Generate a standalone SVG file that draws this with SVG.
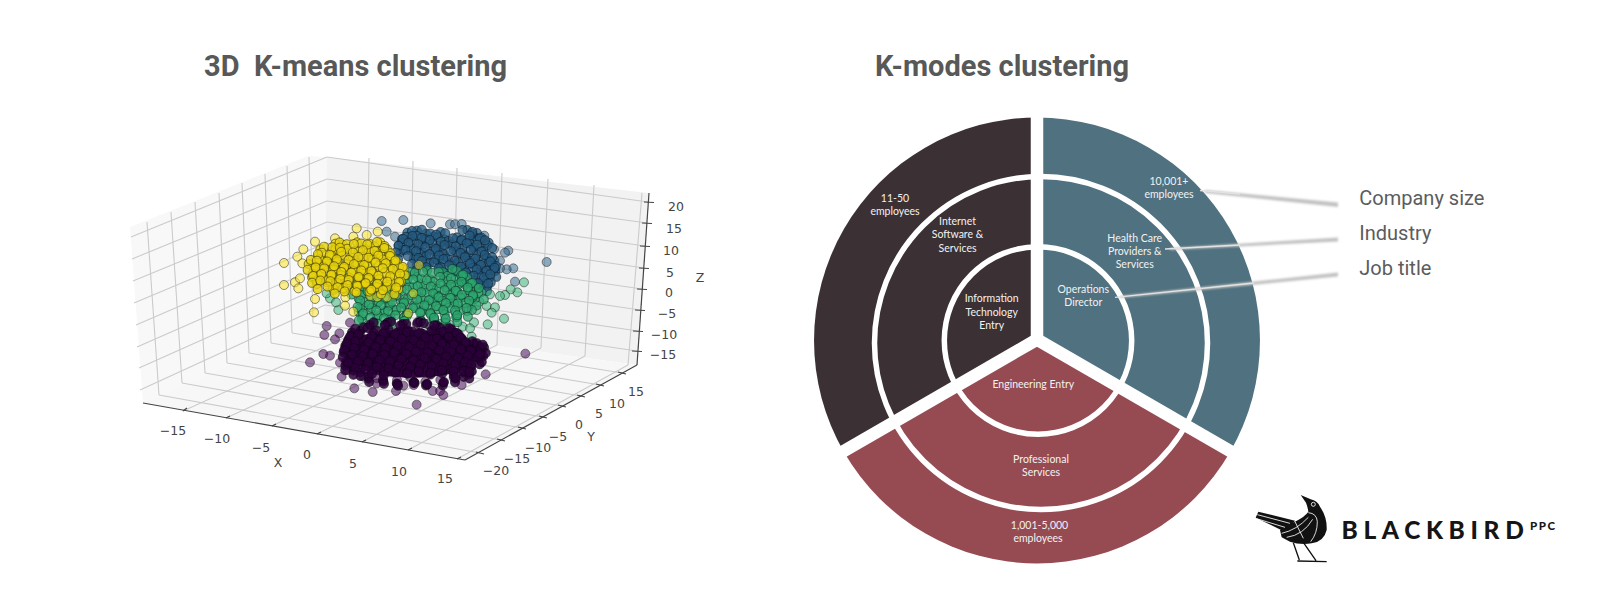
<svg xmlns="http://www.w3.org/2000/svg" width="1600" height="607" viewBox="0 0 1600 607">
<defs>
<filter id="soft" x="-5%" y="-5%" width="110%" height="110%"><feGaussianBlur stdDeviation="0.45"/></filter>
<filter id="shade" x="-5%" y="-100%" width="110%" height="300%"><feGaussianBlur stdDeviation="0.8"/></filter>
</defs>
<style>
text{font-family:"Liberation Sans",sans-serif}
.title{font-family:Roboto,sans-serif;font-weight:700;font-size:29px;fill:#585858;white-space:pre}
.lab{font-family:Roboto,sans-serif;font-size:20px;fill:#5c5c5c}
.t{font-family:"DejaVu Sans",sans-serif;font-size:12.5px;fill:#444;text-anchor:middle;dominant-baseline:central}
.c{font-family:Lato,sans-serif;font-size:10.5px;fill:#f2f2f2;text-anchor:middle}
.g line{stroke:#cbcbcb;stroke-width:1.1}
.ax line{stroke:#444;stroke-width:1.2}
.pts circle{r:13.5px;stroke-width:3;stroke:#1a1a1a;stroke-opacity:.5;fill-opacity:.52}
.b circle{fill:#31688e}.n circle{fill:#35b779}.p circle{fill:#440154}.y circle{fill:#fde725}
.pts #bb circle{fill:#24597f;fill-opacity:.75;stroke:#0c2233;stroke-opacity:.65}
.pts #nb circle{fill:#2da66e;fill-opacity:.75;stroke:#0d3d2c;stroke-opacity:.65}
.pts #pb circle{fill:#2c0639;fill-opacity:.85;stroke:#14021c;stroke-opacity:.7}
.pts #yb circle{fill:#e6d20e;fill-opacity:.8;stroke:#4f4705;stroke-opacity:.7}
.ring{fill:none;stroke:#fff;stroke-width:5.5}
.gap{stroke:#fff;stroke-width:12.5}
</style>
<text class="title" x="204" y="76" xml:space="preserve">3D  K-means clustering</text>
<text class="title" x="875" y="76">K-modes clustering</text>

<g id="plot3d">
<polygon points="130,227 308,156 327,157 324,322 143,403" fill="#f8f8f8"/>
<polygon points="327,157 649,193 637,365 324,322" fill="#f2f2f2"/>
<polygon points="143,403 465,460 637,365 324,322" fill="#f7f7f7"/>
<g class="g" filter="url(#soft)">
<line x1="131" y1="237" x2="327" y2="157"/><line x1="132" y1="259" x2="327" y2="179"/><line x1="133" y1="281" x2="327" y2="201"/><line x1="134" y1="303" x2="327" y2="222"/><line x1="136" y1="325" x2="326" y2="243"/><line x1="137" y1="347" x2="326" y2="264"/><line x1="139" y1="368" x2="325" y2="285"/><line x1="140" y1="390" x2="325" y2="305"/>
<line x1="147" y1="222" x2="159" y2="395"/><line x1="171" y1="212" x2="182" y2="383"/><line x1="195" y1="202" x2="205" y2="373"/><line x1="219" y1="193" x2="227" y2="363"/><line x1="242" y1="183" x2="249" y2="353"/><line x1="265" y1="174" x2="271" y2="343"/><line x1="287" y1="166" x2="292" y2="333"/><line x1="309" y1="157" x2="313" y2="323"/>
<line x1="327" y1="157" x2="648" y2="202"/><line x1="327" y1="179" x2="647" y2="223"/><line x1="327" y1="201" x2="645" y2="246"/><line x1="327" y1="222" x2="644" y2="268"/><line x1="326" y1="243" x2="642" y2="289"/><line x1="326" y1="264" x2="640" y2="310"/><line x1="325" y1="285" x2="638" y2="331"/><line x1="325" y1="305" x2="637" y2="351"/>
<line x1="369" y1="158" x2="366" y2="328"/><line x1="413" y1="161" x2="410" y2="334"/><line x1="457" y1="168" x2="453" y2="340"/><line x1="502" y1="173" x2="497" y2="345"/><line x1="548" y1="179" x2="541" y2="348"/><line x1="594" y1="185" x2="585" y2="356"/><line x1="642" y1="193" x2="628" y2="365"/>
<line x1="183" y1="411" x2="366" y2="328"/><line x1="226" y1="418" x2="410" y2="334"/><line x1="272" y1="426" x2="453" y2="340"/><line x1="317" y1="434" x2="497" y2="345"/><line x1="362" y1="442" x2="541" y2="348"/><line x1="408" y1="450" x2="585" y2="356"/><line x1="457" y1="459" x2="628" y2="365"/>
<line x1="480" y1="453" x2="159" y2="395"/><line x1="501" y1="440" x2="182" y2="383"/><line x1="522" y1="428" x2="205" y2="373"/><line x1="543" y1="417" x2="227" y2="363"/><line x1="562" y1="406" x2="249" y2="353"/><line x1="581" y1="396" x2="271" y2="343"/><line x1="600" y1="385" x2="292" y2="333"/><line x1="622" y1="373" x2="313" y2="323"/>
</g>
<g class="ax">
<line x1="143" y1="403" x2="465" y2="460"/><line x1="465" y1="460" x2="637" y2="365"/><line x1="637" y1="365" x2="649" y2="193"/>
<line x1="183" y1="411" x2="187" y2="408"/><line x1="226" y1="418" x2="230" y2="416"/><line x1="272" y1="426" x2="276" y2="424"/><line x1="317" y1="434" x2="321" y2="432"/><line x1="362" y1="442" x2="366" y2="440"/><line x1="408" y1="450" x2="412" y2="448"/><line x1="457" y1="459" x2="461" y2="457"/>
<line x1="476" y1="452" x2="484" y2="454"/><line x1="497" y1="439" x2="505" y2="441"/><line x1="518" y1="427" x2="526" y2="429"/><line x1="539" y1="416" x2="547" y2="418"/><line x1="558" y1="405" x2="566" y2="407"/><line x1="577" y1="395" x2="585" y2="397"/><line x1="596" y1="384" x2="604" y2="386"/><line x1="618" y1="372" x2="626" y2="374"/>
<line x1="644" y1="202" x2="654" y2="202.500"/><line x1="642" y1="223" x2="652" y2="223.500"/><line x1="640" y1="246" x2="650" y2="246.500"/><line x1="639" y1="268" x2="649" y2="268.500"/><line x1="637" y1="289" x2="647" y2="289.500"/><line x1="635" y1="310" x2="645" y2="310.500"/><line x1="633" y1="331" x2="643" y2="331.500"/><line x1="632" y1="351" x2="642" y2="351.500"/>
</g>
<g class="pts" transform="translate(270 200) scale(.33333)" filter="url(#soft)">
<g class="b">
<circle cx="335" cy="63"/><circle cx="400" cy="60"/><circle cx="482" cy="70"/><circle cx="540" cy="73"/><circle cx="555" cy="73"/><circle cx="575" cy="72"/><circle cx="350" cy="95"/><circle cx="375" cy="110"/><circle cx="643" cy="107"/><circle cx="672" cy="148"/><circle cx="715" cy="152"/><circle cx="705" cy="158"/><circle cx="690" cy="182"/><circle cx="830" cy="186"/><circle cx="735" cy="245"/><circle cx="730" cy="205"/><circle cx="710" cy="208"/><circle cx="690" cy="205"/><circle cx="658" cy="200"/>
<g id="bb">
<circle cx="412" cy="98"/><circle cx="441" cy="92"/><circle cx="468" cy="101"/><circle cx="512" cy="96"/><circle cx="592" cy="90"/><circle cx="621" cy="99"/>
<circle cx="396" cy="117"/><circle cx="427" cy="111"/><circle cx="456" cy="119"/><circle cx="491" cy="110"/><circle cx="524" cy="118"/><circle cx="561" cy="112"/><circle cx="586" cy="120"/><circle cx="612" cy="109"/><circle cx="641" cy="121"/>
<circle cx="386" cy="136"/><circle cx="416" cy="131"/><circle cx="447" cy="139"/><circle cx="476" cy="130"/><circle cx="506" cy="138"/><circle cx="534" cy="129"/><circle cx="567" cy="137"/><circle cx="601" cy="131"/><circle cx="631" cy="139"/><circle cx="656" cy="128"/>
<circle cx="391" cy="157"/><circle cx="421" cy="151"/><circle cx="452" cy="160"/><circle cx="486" cy="152"/><circle cx="514" cy="159"/><circle cx="551" cy="150"/><circle cx="579" cy="158"/><circle cx="611" cy="152"/><circle cx="642" cy="160"/>
<circle cx="431" cy="176"/><circle cx="461" cy="170"/><circle cx="497" cy="178"/><circle cx="526" cy="171"/><circle cx="559" cy="179"/><circle cx="591" cy="172"/><circle cx="621" cy="180"/><circle cx="651" cy="172"/><circle cx="672" cy="181"/>
<circle cx="441" cy="196"/><circle cx="472" cy="190"/><circle cx="509" cy="197"/><circle cx="541" cy="191"/><circle cx="576" cy="199"/><circle cx="604" cy="192"/><circle cx="636" cy="200"/><circle cx="666" cy="193"/>
<circle cx="521" cy="216"/><circle cx="556" cy="210"/><circle cx="589" cy="218"/><circle cx="622" cy="212"/><circle cx="651" cy="219"/><circle cx="676" cy="213"/>
<circle cx="576" cy="236"/><circle cx="611" cy="230"/><circle cx="641" cy="238"/><circle cx="661" cy="231"/><circle cx="622" cy="254"/><circle cx="652" cy="258"/>
</g>
<use href="#bb" transform="translate(8 5) rotate(5 530 160)"/><use href="#bb" transform="translate(-7 6) rotate(-6 530 160)"/>
</g>
<g class="n">
<circle cx="762" cy="247"/><circle cx="742" cy="277"/><circle cx="722" cy="268"/><circle cx="705" cy="285"/><circle cx="690" cy="288"/><circle cx="650" cy="318"/><circle cx="675" cy="322"/><circle cx="665" cy="338"/><circle cx="620" cy="330"/><circle cx="612" cy="367"/><circle cx="578" cy="380"/><circle cx="600" cy="385"/><circle cx="605" cy="410"/><circle cx="653" cy="373"/><circle cx="702" cy="356"/><circle cx="205" cy="330"/><circle cx="180" cy="295"/><circle cx="170" cy="280"/><circle cx="198" cy="307"/><circle cx="660" cy="283"/><circle cx="628" cy="305"/>
<circle cx="231" cy="212"/><circle cx="311" cy="372"/><circle cx="401" cy="372"/><circle cx="471" cy="372"/><circle cx="511" cy="372"/><circle cx="541" cy="375"/>
<g id="nb">
<circle cx="421" cy="216"/><circle cx="472" cy="211"/><circle cx="519" cy="217"/><circle cx="561" cy="212"/>
<circle cx="401" cy="236"/><circle cx="441" cy="231"/><circle cx="481" cy="238"/><circle cx="522" cy="232"/><circle cx="554" cy="239"/><circle cx="591" cy="233"/>
<circle cx="252" cy="257"/><circle cx="301" cy="252"/><circle cx="341" cy="258"/><circle cx="381" cy="251"/><circle cx="419" cy="259"/><circle cx="452" cy="253"/><circle cx="491" cy="258"/><circle cx="521" cy="252"/><circle cx="552" cy="259"/><circle cx="584" cy="253"/><circle cx="616" cy="260"/>
<circle cx="276" cy="277"/><circle cx="311" cy="272"/><circle cx="351" cy="279"/><circle cx="386" cy="273"/><circle cx="431" cy="278"/><circle cx="461" cy="272"/><circle cx="496" cy="279"/><circle cx="531" cy="273"/><circle cx="564" cy="278"/><circle cx="601" cy="272"/><circle cx="634" cy="277"/>
<circle cx="266" cy="296"/><circle cx="301" cy="292"/><circle cx="336" cy="298"/><circle cx="371" cy="291"/><circle cx="406" cy="297"/><circle cx="446" cy="292"/><circle cx="481" cy="298"/><circle cx="511" cy="292"/><circle cx="546" cy="298"/><circle cx="581" cy="292"/><circle cx="614" cy="297"/>
<circle cx="281" cy="317"/><circle cx="321" cy="312"/><circle cx="356" cy="318"/><circle cx="396" cy="311"/><circle cx="431" cy="317"/><circle cx="466" cy="312"/><circle cx="501" cy="318"/><circle cx="531" cy="312"/><circle cx="566" cy="317"/><circle cx="601" cy="312"/>
<circle cx="266" cy="336"/><circle cx="301" cy="332"/><circle cx="341" cy="338"/><circle cx="376" cy="332"/><circle cx="411" cy="337"/><circle cx="451" cy="332"/><circle cx="481" cy="338"/><circle cx="521" cy="332"/><circle cx="556" cy="337"/><circle cx="591" cy="333"/>
<circle cx="276" cy="357"/><circle cx="321" cy="352"/><circle cx="361" cy="358"/><circle cx="401" cy="352"/><circle cx="451" cy="358"/><circle cx="491" cy="352"/><circle cx="526" cy="358"/><circle cx="561" cy="352"/>
</g>
<use href="#nb" transform="translate(7 4) rotate(5 440 290)"/><use href="#nb" transform="translate(-5 7) rotate(-6 440 290)"/>
</g>
<g class="p">
<path d="M238 425Q300 385 430 390Q560 395 625 445Q612 500 540 522Q430 545 310 522Q235 490 238 425Z" fill="#33063f" style="stroke:none"/>
<circle cx="120" cy="487"/><circle cx="170" cy="378"/><circle cx="163" cy="405"/><circle cx="240" cy="368"/><circle cx="208" cy="400"/><circle cx="195" cy="418"/><circle cx="215" cy="530"/><circle cx="253" cy="565"/><circle cx="308" cy="576"/><circle cx="378" cy="573"/><circle cx="400" cy="557"/><circle cx="440" cy="614"/><circle cx="488" cy="573"/><circle cx="520" cy="585"/><circle cx="510" cy="573"/><circle cx="575" cy="555"/><circle cx="647" cy="523"/><circle cx="766" cy="461"/><circle cx="160" cy="462"/><circle cx="180" cy="467"/><circle cx="210" cy="488"/><circle cx="232" cy="510"/><circle cx="320" cy="550"/>
<circle cx="301" cy="378"/><circle cx="346" cy="374"/><circle cx="401" cy="379"/><circle cx="441" cy="373"/><circle cx="481" cy="379"/><circle cx="531" cy="385"/>
<circle cx="281" cy="530"/><circle cx="321" cy="535"/><circle cx="381" cy="540"/><circle cx="421" cy="533"/><circle cx="466" cy="545"/><circle cx="511" cy="540"/><circle cx="551" cy="533"/><circle cx="431" cy="555"/>
<g id="pb">
<circle cx="246" cy="397"/><circle cx="271" cy="392"/><circle cx="311" cy="398"/><circle cx="346" cy="392"/><circle cx="381" cy="397"/><circle cx="416" cy="393"/><circle cx="451" cy="398"/><circle cx="491" cy="392"/><circle cx="526" cy="397"/><circle cx="566" cy="403"/>
<circle cx="236" cy="417"/><circle cx="261" cy="412"/><circle cx="301" cy="418"/><circle cx="336" cy="412"/><circle cx="366" cy="417"/><circle cx="401" cy="412"/><circle cx="436" cy="418"/><circle cx="471" cy="412"/><circle cx="506" cy="417"/><circle cx="541" cy="412"/><circle cx="576" cy="418"/><circle cx="611" cy="430"/>
<circle cx="226" cy="437"/><circle cx="256" cy="432"/><circle cx="286" cy="438"/><circle cx="321" cy="432"/><circle cx="351" cy="437"/><circle cx="386" cy="433"/><circle cx="421" cy="438"/><circle cx="456" cy="432"/><circle cx="491" cy="437"/><circle cx="521" cy="432"/><circle cx="556" cy="438"/><circle cx="591" cy="432"/><circle cx="625" cy="437"/>
<circle cx="221" cy="457"/><circle cx="251" cy="452"/><circle cx="281" cy="458"/><circle cx="311" cy="452"/><circle cx="346" cy="457"/><circle cx="376" cy="452"/><circle cx="411" cy="458"/><circle cx="441" cy="452"/><circle cx="476" cy="457"/><circle cx="511" cy="452"/><circle cx="546" cy="458"/><circle cx="576" cy="452"/><circle cx="606" cy="458"/><circle cx="635" cy="452"/>
<circle cx="236" cy="477"/><circle cx="266" cy="472"/><circle cx="296" cy="478"/><circle cx="331" cy="472"/><circle cx="361" cy="477"/><circle cx="396" cy="472"/><circle cx="431" cy="478"/><circle cx="466" cy="472"/><circle cx="501" cy="477"/><circle cx="531" cy="472"/><circle cx="566" cy="478"/><circle cx="596" cy="472"/><circle cx="626" cy="477"/>
<circle cx="226" cy="497"/><circle cx="256" cy="492"/><circle cx="286" cy="498"/><circle cx="321" cy="492"/><circle cx="356" cy="497"/><circle cx="386" cy="492"/><circle cx="421" cy="498"/><circle cx="451" cy="492"/><circle cx="486" cy="497"/><circle cx="521" cy="492"/><circle cx="556" cy="498"/><circle cx="586" cy="492"/>
<circle cx="271" cy="517"/><circle cx="306" cy="512"/><circle cx="341" cy="518"/><circle cx="376" cy="512"/><circle cx="411" cy="517"/><circle cx="446" cy="512"/><circle cx="481" cy="518"/><circle cx="516" cy="512"/><circle cx="551" cy="517"/><circle cx="581" cy="518"/>
<circle cx="300" cy="374"/><circle cx="352" cy="368"/><circle cx="398" cy="372"/><circle cx="450" cy="366"/><circle cx="500" cy="376"/><circle cx="545" cy="388"/><circle cx="642" cy="442"/><circle cx="632" cy="470"/><circle cx="604" cy="500"/><circle cx="598" cy="522"/><circle cx="556" cy="536"/><circle cx="520" cy="548"/><circle cx="470" cy="552"/><circle cx="432" cy="546"/><circle cx="382" cy="552"/><circle cx="340" cy="544"/><circle cx="296" cy="536"/><circle cx="250" cy="512"/>
</g>
<use href="#pb" transform="translate(5 2) rotate(4 430 455)"/><use href="#pb" transform="translate(-3 3) rotate(-3 430 455)"/>
</g>
<g class="y">
<circle cx="42" cy="189"/><circle cx="42" cy="255"/><circle cx="75" cy="247"/><circle cx="90" cy="235"/><circle cx="85" cy="265"/><circle cx="135" cy="297"/><circle cx="132" cy="337"/><circle cx="135" cy="125"/><circle cx="100" cy="148"/><circle cx="82" cy="170"/><circle cx="97" cy="190"/><circle cx="260" cy="85"/><circle cx="323" cy="95"/><circle cx="290" cy="105"/><circle cx="250" cy="110"/><circle cx="195" cy="115"/><circle cx="250" cy="335"/><circle cx="415" cy="340"/><circle cx="430" cy="280"/><circle cx="447" cy="195"/>
<circle cx="226" cy="292"/><circle cx="301" cy="288"/><circle cx="351" cy="292"/><circle cx="225" cy="317"/><circle cx="322" cy="292"/>
<g id="yb">
<circle cx="196" cy="131"/><circle cx="218" cy="134"/><circle cx="261" cy="127"/><circle cx="301" cy="132"/><circle cx="331" cy="127"/>
<circle cx="151" cy="148"/><circle cx="186" cy="153"/><circle cx="221" cy="147"/><circle cx="256" cy="152"/><circle cx="286" cy="148"/><circle cx="321" cy="153"/><circle cx="351" cy="147"/>
<circle cx="146" cy="167"/><circle cx="176" cy="172"/><circle cx="206" cy="168"/><circle cx="241" cy="173"/><circle cx="271" cy="167"/><circle cx="301" cy="172"/><circle cx="331" cy="168"/><circle cx="366" cy="172"/>
<circle cx="116" cy="192"/><circle cx="141" cy="187"/><circle cx="166" cy="192"/><circle cx="196" cy="188"/><circle cx="226" cy="193"/><circle cx="256" cy="187"/><circle cx="286" cy="192"/><circle cx="321" cy="188"/><circle cx="351" cy="193"/><circle cx="381" cy="187"/>
<circle cx="131" cy="212"/><circle cx="156" cy="208"/><circle cx="186" cy="213"/><circle cx="216" cy="207"/><circle cx="246" cy="212"/><circle cx="276" cy="208"/><circle cx="306" cy="213"/><circle cx="341" cy="207"/><circle cx="371" cy="212"/><circle cx="401" cy="208"/>
<circle cx="126" cy="232"/><circle cx="151" cy="227"/><circle cx="181" cy="232"/><circle cx="211" cy="228"/><circle cx="236" cy="233"/><circle cx="266" cy="227"/><circle cx="296" cy="232"/><circle cx="326" cy="228"/><circle cx="361" cy="233"/><circle cx="391" cy="228"/>
<circle cx="141" cy="252"/><circle cx="171" cy="247"/><circle cx="201" cy="252"/><circle cx="231" cy="248"/><circle cx="261" cy="253"/><circle cx="286" cy="247"/><circle cx="321" cy="252"/><circle cx="351" cy="248"/><circle cx="386" cy="252"/>
<circle cx="191" cy="270"/><circle cx="221" cy="266"/><circle cx="256" cy="272"/><circle cx="301" cy="268"/><circle cx="336" cy="272"/><circle cx="376" cy="268"/>
</g>
<use href="#yb" transform="translate(5 3) rotate(6 260 200)"/><use href="#yb" transform="translate(-3 5) rotate(-5 260 200)"/>
</g>
</g>
<text class="t" x="173" y="430">−15</text><text class="t" x="217" y="438">−10</text><text class="t" x="261" y="447">−5</text><text class="t" x="307" y="454">0</text><text class="t" x="353" y="463">5</text><text class="t" x="399" y="471">10</text><text class="t" x="445" y="478">15</text><text class="t" x="278" y="462">X</text>
<text class="t" x="496" y="470">−20</text><text class="t" x="517" y="458">−15</text><text class="t" x="538" y="447">−10</text><text class="t" x="558" y="436">−5</text><text class="t" x="579" y="424">0</text><text class="t" x="599" y="413">5</text><text class="t" x="617" y="403">10</text><text class="t" x="636" y="391">15</text><text class="t" x="591" y="436">Y</text>
<text class="t" x="676" y="206">20</text><text class="t" x="674" y="228">15</text><text class="t" x="671" y="250">10</text><text class="t" x="670" y="272">5</text><text class="t" x="669" y="292">0</text><text class="t" x="667" y="313">−5</text><text class="t" x="664" y="334">−10</text><text class="t" x="663" y="354">−15</text><text class="t" x="700" y="277">Z</text>
</g>

<g id="seg-dark"><path d="M1037 340.500L1037 117.500A223 223 0 0 0 843.900 452Z" fill="#3b3033"/></g>
<g id="seg-teal"><path d="M1037 340.500L1037 117.500A223 223 0 0 1 1230.100 452Z" fill="#50717f"/></g>
<g id="seg-red"><path d="M1037 340.500L1230.100 452A223 223 0 0 1 843.900 452Z" fill="#964b53"/></g>
<g id="rings">
<circle class="ring" cx="1041" cy="343" r="166.500"/>
<circle class="ring" cx="1038" cy="340.500" r="93.700"/>
<line class="gap" x1="1037" y1="340" x2="1037" y2="105"/>
<line class="gap" x1="1037" y1="339.500" x2="1245" y2="459.600"/>
<line class="gap" x1="1037" y1="339.500" x2="829" y2="459.600"/>
</g>
<g id="node-company-size-dark"><text class="c" x="895" y="202.300">11-50</text><text class="c" x="895" y="215">employees</text></g>
<g id="node-industry-dark"><text class="c" x="957.500" y="225">Internet</text><text class="c" x="957.500" y="238.300">Software &amp;</text><text class="c" x="957.500" y="251.700">Services</text></g>
<g id="node-job-dark"><text class="c" x="991.700" y="302.300">Information</text><text class="c" x="991.700" y="315.500">Technology</text><text class="c" x="991.700" y="329">Entry</text></g>
<g id="node-company-size-teal"><text class="c" x="1169" y="184.700">10,001+</text><text class="c" x="1169" y="198">employees</text></g>
<g id="node-industry-teal"><text class="c" x="1134.700" y="241.700">Health Care</text><text class="c" x="1134.700" y="255">Providers &amp;</text><text class="c" x="1134.700" y="268.300">Services</text></g>
<g id="node-job-teal"><text class="c" x="1083.300" y="293.300">Operations</text><text class="c" x="1083.300" y="306">Director</text></g>
<g id="node-job-red"><text class="c" x="1033.300" y="387.700">Engineering Entry</text></g>
<g id="node-industry-red"><text class="c" x="1041" y="463">Professional</text><text class="c" x="1041" y="476">Services</text></g>
<g id="node-company-size-red"><text class="c" x="1039.500" y="529.300">1,001-5,000</text><text class="c" x="1038" y="542.300">employees</text></g>

<g id="connectors">
<g filter="url(#shade)" fill="#c2c2c2">
<polygon points="1205,190 1338,202.500 1338,207 1205,193"/>
<polygon points="1170,248 1338,237.500 1338,241.500 1170,250"/>
<polygon points="1120,296 1338,272.500 1338,276.500 1120,298"/>
</g>
<g stroke="#e2e2e2" stroke-width="1.300">
<line x1="1200" y1="190.500" x2="1240" y2="194"/>
<line x1="1165" y1="249" x2="1240" y2="245"/>
<line x1="1115" y1="297.300" x2="1254" y2="283"/>
</g>
</g>
<g id="label-company-size"><text class="lab" x="1359.300" y="205">Company size</text></g>
<g id="label-industry"><text class="lab" x="1359.300" y="240.300">Industry</text></g>
<g id="label-job-title"><text class="lab" x="1359.300" y="274.800">Job title</text></g>

<g id="logo">
<g transform="translate(1240 480) scale(.33333)">
<path d="M182 45L212 58Q232 62 240 80Q262 112 260 150Q252 185 215 190Q180 195 150 185L125 172L120 150L165 125Q195 110 205 95Q203 80 198 68Z" fill="#111"/>
<path d="M47 113L55 95L165 122L140 158Z" fill="#111"/>
<g fill="none" stroke="#fff" stroke-width="2.500">
<path d="M52 104L150 130M50 116L135 142"/>
<path d="M125 160Q170 150 205 112M140 172Q190 165 218 118M165 125L190 175"/>
<path d="M205 98Q230 100 232 125Q232 160 212 185"/>
<circle cx="220" cy="73" r="6"/>
</g>
<g fill="none" stroke="#111" stroke-width="4">
<path d="M160 188L178 240M192 190L228 242M172 243L260 245"/>
</g>
</g>
<text x="1341.500" y="539.300" style="font-family:Lato,sans-serif;font-weight:900;font-size:24.500px;letter-spacing:5.650px" fill="#151515">BLACKBIRD</text>
<text x="1530" y="530" style="font-family:Lato,sans-serif;font-weight:900;font-size:11.500px;letter-spacing:1.500px" fill="#151515">PPC</text>
</g>
</svg>
